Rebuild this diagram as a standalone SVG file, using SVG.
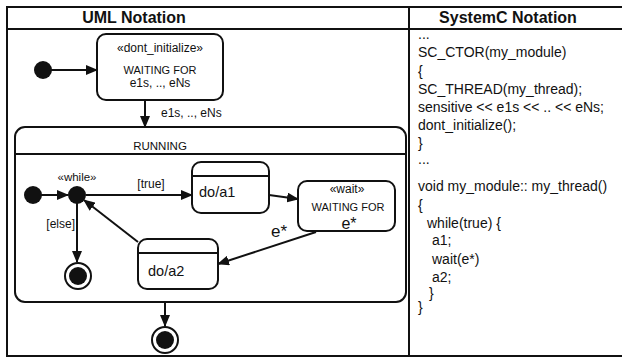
<svg xmlns="http://www.w3.org/2000/svg" width="622" height="358" viewBox="0 0 622 358">
  <style>
    .state { stroke: #111; stroke-width: 2; fill: #fff; }
    .sep { stroke: #111; stroke-width: 2; }
    .dot { fill: #111; }
    .ring { stroke: #111; stroke-width: 2; fill: #fff; }
    .edge { stroke: #111; stroke-width: 2; fill: none; marker-end: url(#head); }
    text { font-family: "Liberation Sans", Arial, sans-serif; fill: #111; }
    .title { font-size: 16px; font-weight: bold; text-anchor: middle; }
    .lbl { font-size: 12px; }
    .sm { font-size: 11px; }
    .mid { text-anchor: middle; }
    .act { font-size: 14.5px; }
    .big { font-size: 17px; }
    .code { font-size: 14px; }
  </style>
  <defs>
    <marker id="head" markerUnits="userSpaceOnUse" markerWidth="13" markerHeight="10" refX="11" refY="5" orient="auto">
      <path d="M0,0 L12,5 L0,10 z" fill="#111"/>
    </marker>
  </defs>

  <rect width="622" height="358" fill="#fff"/>

  <!-- table frame -->
  <g id="table">
    <line class="sep" x1="6" y1="7" x2="622" y2="7"/>
    <line class="sep" x1="6" y1="29" x2="622" y2="29"/>
    <line class="sep" x1="6" y1="356" x2="622" y2="356"/>
    <line class="sep" x1="7" y1="6" x2="7" y2="357"/>
    <line class="sep" x1="409" y1="6" x2="409" y2="357"/>
    <text class="title" x="134" y="23">UML Notation</text>
    <text class="title" x="508" y="23">SystemC Notation</text>
  </g>

  <g id="init-top">
    <circle class="dot" cx="43" cy="70" r="9"/>
  </g>

  <g id="waiting-init">
    <rect class="state" x="97" y="34" width="126" height="66" rx="9"/>
    <text class="lbl mid" x="160" y="52">«dont_initialize»</text>
    <text class="sm mid" x="160" y="74">WAITING FOR</text>
    <text class="lbl mid" x="160" y="87">e1s, .., eNs</text>
  </g>

  <g id="running">
    <rect class="state" x="15" y="127" width="391" height="175" rx="10"/>
    <line class="sep" x1="16" y1="154" x2="405" y2="154"/>
    <text class="lbl mid" x="160" y="150" style="font-size:11.5px">RUNNING</text>
  </g>

  <g id="init-inner">
    <circle class="dot" cx="33" cy="195" r="9"/>
  </g>

  <g id="while">
    <circle class="dot" cx="77" cy="195" r="9"/>
    <text class="lbl mid" x="77" y="181" style="font-size:11.5px">«while»</text>
  </g>

  <g id="do-a1">
    <rect class="state" x="192" y="162" width="77" height="51" rx="9"/>
    <line class="sep" x1="192" y1="176" x2="269" y2="176"/>
    <text class="act" x="199" y="197">do/a1</text>
  </g>

  <g id="wait">
    <rect class="state" x="298" y="181" width="97" height="50" rx="9"/>
    <text class="lbl mid" x="347" y="193">«wait»</text>
    <text class="sm mid" x="348" y="211">WAITING FOR</text>
    <text class="mid" x="349" y="229" style="font-size:16px">e*</text>
  </g>

  <g id="do-a2">
    <rect class="state" x="138" y="239" width="80" height="50" rx="9"/>
    <line class="sep" x1="138" y1="253" x2="218" y2="253"/>
    <text class="act" x="148" y="276">do/a2</text>
  </g>

  <g id="final-inner">
    <circle class="ring" cx="78" cy="276" r="13"/>
    <circle class="dot" cx="78" cy="276" r="9"/>
  </g>

  <g id="final-outer">
    <circle class="ring" cx="165" cy="340" r="13"/>
    <circle class="dot" cx="165" cy="340" r="9"/>
  </g>

  <!-- transitions, drawn over the composite state -->
  <g id="connectors">
    <line class="edge" x1="50" y1="70" x2="97" y2="70"/>
    <line class="edge" x1="145" y1="101" x2="145" y2="127"/>
    <line class="edge" x1="40" y1="195" x2="68" y2="195"/>
    <line class="edge" x1="86" y1="195" x2="192" y2="195"/>
    <line class="edge" x1="269" y1="195" x2="298" y2="199"/>
    <line class="edge" x1="316" y1="232" x2="218" y2="264"/>
    <line class="edge" x1="138" y1="242" x2="84" y2="200"/>
    <line class="edge" x1="77" y1="203" x2="77" y2="262"/>
    <line class="edge" x1="165" y1="303" x2="165" y2="326"/>
    <text class="lbl" x="161" y="117">e1s, .., eNs</text>
    <text class="lbl mid" x="151" y="188">[true]</text>
    <text class="lbl" x="75" y="228" text-anchor="end">[else]</text>
    <text class="big" x="271" y="237">e*</text>
  </g>

  <!-- SystemC listing -->
  <g id="systemc-code">
    <text class="code" x="418" y="39">...</text>
    <text class="code" x="418" y="57">SC_CTOR(my_module)</text>
    <text class="code" x="418" y="76">{</text>
    <text class="code" x="418" y="94">SC_THREAD(my_thread);</text>
    <text class="code" x="418" y="112">sensitive &lt;&lt; e1s &lt;&lt; .. &lt;&lt; eNs;</text>
    <text class="code" x="418" y="130">dont_initialize();</text>
    <text class="code" x="418" y="148">}</text>
    <text class="code" x="418" y="164">...</text>
    <text class="code" x="418" y="191">void my_module:: my_thread()</text>
    <text class="code" x="418" y="210">{</text>
    <text class="code" x="427" y="228">while(true) {</text>
    <text class="code" x="432" y="245">a1;</text>
    <text class="code" x="432" y="264">wait(e*)</text>
    <text class="code" x="432" y="282">a2;</text>
    <text class="code" x="429" y="298">}</text>
    <text class="code" x="418" y="312">}</text>
  </g>
</svg>
